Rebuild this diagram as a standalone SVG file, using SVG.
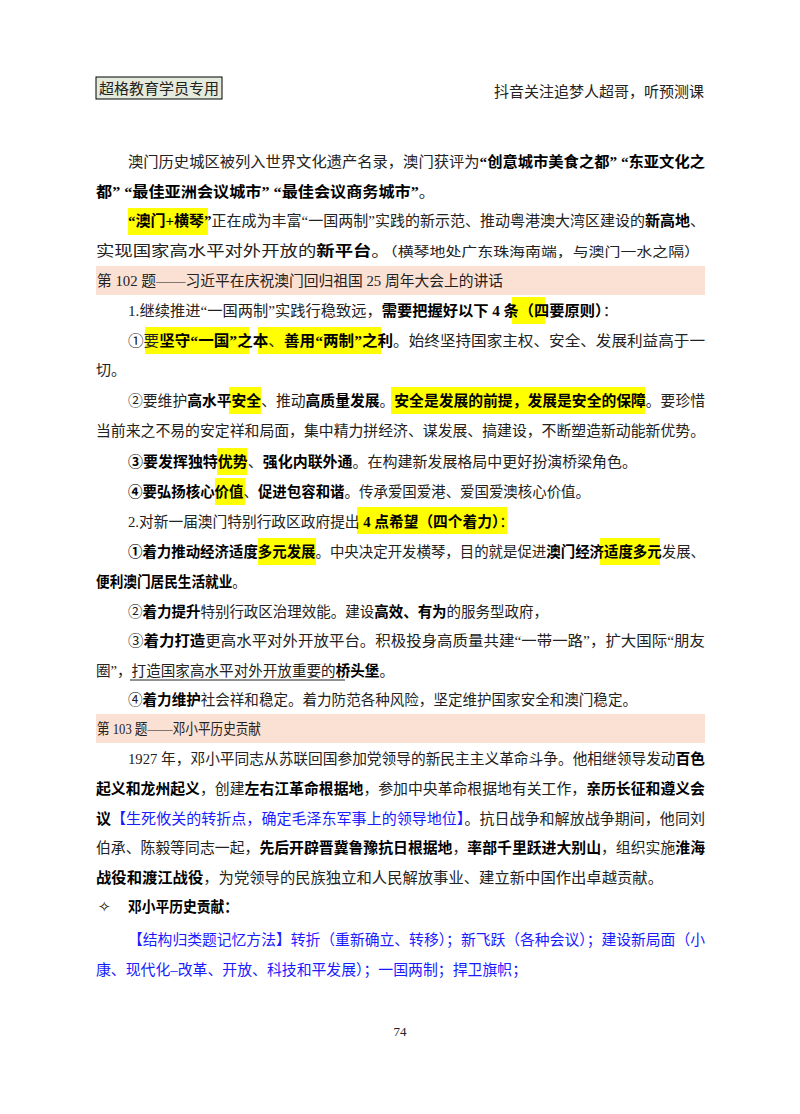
<svg xmlns="http://www.w3.org/2000/svg" width="800" height="1114" viewBox="0 0 800 1114">
<style>
text{font-family:"Liberation Serif","Noto Sans CJK SC",serif;font-size:15px;fill:#222}
.b{font-weight:bold;fill:#000}
.bl{fill:#1a1aff}
.hl{fill:#ffff00}
.hd{fill:#fbe0d4}
</style>
<rect width="800" height="1114" fill="#fff"/>
<rect x="96" y="77" width="126" height="22" fill="#e4eadc" stroke="#000" stroke-width="1"/>
<text x="159" y="94" text-anchor="middle">超格教育学员专用</text>
<text x="704" y="97" text-anchor="end">抖音关注追梦人超哥，听预测课</text>

<g class="hls">
<rect class="hl" x="128" y="208" width="80" height="27"/>
<rect class="hd" x="96" y="266" width="609" height="29"/>
<rect class="hl" x="512" y="297" width="33" height="27"/>
<rect class="hl" x="145" y="327" width="104" height="27"/>
<rect class="hl" x="258" y="327" width="123" height="27"/>
<rect class="hl" x="229" y="387" width="32" height="27"/>
<rect class="hl" x="391" y="387" width="254" height="27"/>
<rect class="hl" x="217" y="448" width="30" height="27"/>
<rect class="hl" x="215" y="478" width="30" height="27"/>
<rect class="hl" x="357" y="507" width="150" height="27"/>
<rect class="hl" x="258" y="538" width="58" height="27"/>
<rect class="hl" x="600" y="538" width="60" height="27"/>
<rect class="hd" x="96" y="714" width="609" height="29"/>
</g>

<text x="128" y="167" textLength="577" lengthAdjust="spacingAndGlyphs">澳门历史城区被列入世界文化遗产名录，澳门获评为<tspan class="b">“创意城市美食之都” “东亚文化之</tspan></text>
<text x="96" y="197" textLength="339" lengthAdjust="spacingAndGlyphs"><tspan class="b">都” “最佳亚洲会议城市” “最佳会议商务城市”</tspan>。</text>
<text x="128" y="226" textLength="577" lengthAdjust="spacingAndGlyphs"><tspan class="b">“澳门+横琴”</tspan>正在成为丰富“一国两制”实践的新示范、推动粤港澳大湾区建设的<tspan class="b">新高地</tspan>、</text>
<text x="96" y="256" textLength="604" lengthAdjust="spacingAndGlyphs">实现国家高水平对外开放的<tspan class="b">新平台</tspan>。<tspan style="font-size:13px">（横琴地处广东珠海南端，与澳门一水之隔）</tspan></text>
<text x="97" y="286" textLength="406" lengthAdjust="spacingAndGlyphs">第 102 题——习近平在庆祝澳门回归祖国 25 周年大会上的讲话</text>
<text x="128" y="316" textLength="490" lengthAdjust="spacingAndGlyphs">1.继续推进“一国两制”实践行稳致远，<tspan class="b">需要把握好以下 4 条（四要原则）</tspan>：</text>
<text x="128" y="346" textLength="577" lengthAdjust="spacingAndGlyphs">①要<tspan class="b">坚守“一国”之本</tspan>、<tspan class="b">善用“两制”之利</tspan>。始终坚持国家主权、安全、发展利益高于一</text>
<text x="96" y="375">切。</text>
<text x="128" y="406" textLength="577" lengthAdjust="spacingAndGlyphs">②要维护<tspan class="b">高水平安全</tspan>、推动<tspan class="b">高质量发展</tspan>。<tspan class="b">安全是发展的前提，发展是安全的保障</tspan>。要珍惜</text>
<text x="96" y="436" textLength="609" lengthAdjust="spacingAndGlyphs">当前来之不易的安定祥和局面，集中精力拼经济、谋发展、搞建设，不断塑造新动能新优势。</text>
<text x="128" y="467" textLength="509" lengthAdjust="spacingAndGlyphs"><tspan class="b">③要发挥独特优势</tspan>、<tspan class="b">强化内联外通</tspan>。在构建新发展格局中更好扮演桥梁角色。</text>
<text x="128" y="497" textLength="462" lengthAdjust="spacingAndGlyphs"><tspan class="b">④要弘扬核心价值</tspan>、<tspan class="b">促进包容和谐</tspan>。传承爱国爱港、爱国爱澳核心价值。</text>
<text x="128" y="527" textLength="386" lengthAdjust="spacingAndGlyphs">2.对新一届澳门特别行政区政府提出 <tspan class="b">4 点希望（四个着力）</tspan>：</text>
<text x="128" y="557" textLength="577" lengthAdjust="spacingAndGlyphs"><tspan class="b">①着力推动经济适度多元发展</tspan>。中央决定开发横琴，目的就是促进<tspan class="b">澳门经济适度多元</tspan>发展、</text>
<text x="96" y="587" textLength="150" lengthAdjust="spacingAndGlyphs"><tspan class="b">便利澳门居民生活就业</tspan>。</text>
<text x="128" y="617" textLength="420" lengthAdjust="spacingAndGlyphs">②<tspan class="b">着力提升</tspan>特别行政区治理效能。建设<tspan class="b">高效、有为</tspan>的服务型政府，</text>
<text x="128" y="646" textLength="577" lengthAdjust="spacingAndGlyphs">③<tspan class="b">着力打造</tspan>更高水平对外开放平台。积极投身高质量共建“一带一路”，扩大国际“朋友</text>
<text x="96" y="676" textLength="298" lengthAdjust="spacingAndGlyphs">圈”，打造国家高水平对外开放重要的<tspan class="b">桥头堡</tspan>。</text>
<line x1="130" y1="680" x2="345" y2="680" stroke="#222" stroke-width="1"/>
<text x="128" y="705" textLength="509" lengthAdjust="spacingAndGlyphs">④<tspan class="b">着力维护</tspan>社会祥和稳定。着力防范各种风险，坚定维护国家安全和澳门稳定。</text>
<text x="97" y="734" textLength="164" lengthAdjust="spacingAndGlyphs">第 103 题——邓小平历史贡献</text>
<text x="128" y="764" textLength="577" lengthAdjust="spacingAndGlyphs">1927 年，邓小平同志从苏联回国参加党领导的新民主主义革命斗争。他相继领导发动<tspan class="b">百色</tspan></text>
<text x="96" y="794" textLength="609" lengthAdjust="spacingAndGlyphs"><tspan class="b">起义和龙州起义</tspan>，创建<tspan class="b">左右江革命根据地</tspan>，参加中央革命根据地有关工作，<tspan class="b">亲历长征和遵义会</tspan></text>
<text x="96" y="824" textLength="609" lengthAdjust="spacingAndGlyphs"><tspan class="b">议</tspan><tspan class="bl">【生死攸关的转折点，确定毛泽东军事上的领导地位】</tspan>。抗日战争和解放战争期间，他同刘</text>
<text x="96" y="853" textLength="609" lengthAdjust="spacingAndGlyphs">伯承、陈毅等同志一起，<tspan class="b">先后开辟晋冀鲁豫抗日根据地</tspan>，<tspan class="b">率部千里跃进大别山</tspan>，组织实施<tspan class="b">淮海</tspan></text>
<text x="96" y="883" textLength="567" lengthAdjust="spacingAndGlyphs"><tspan class="b">战役和渡江战役</tspan>，为党领导的民族独立和人民解放事业、建立新中国作出卓越贡献。</text>
<text x="98" y="912">✧</text>
<text x="128" y="912" class="b" textLength="110" lengthAdjust="spacingAndGlyphs">邓小平历史贡献：</text>
<text x="128" y="945" class="bl" textLength="577" lengthAdjust="spacingAndGlyphs">【结构归类题记忆方法】转折（重新确立、转移）；新飞跃（各种会议）；建设新局面（小</text>
<text x="96" y="975" class="bl" textLength="431" lengthAdjust="spacingAndGlyphs">康、现代化–改革、开放、科技和平发展）；一国两制；捍卫旗帜；</text>
<text x="400" y="1036" text-anchor="middle" style="font-size:13px">74</text>
</svg>
